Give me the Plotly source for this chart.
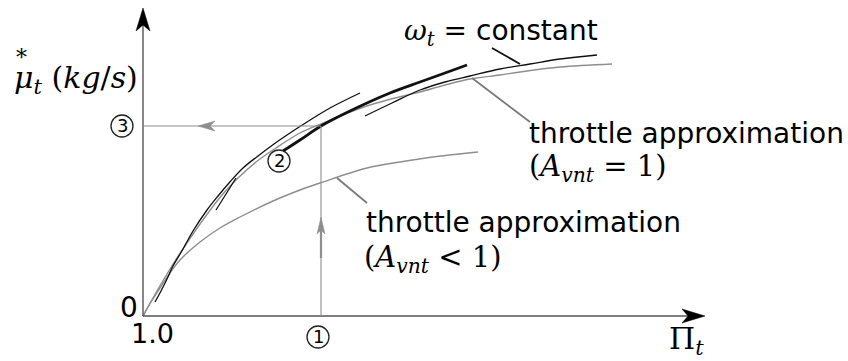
import plotly.graph_objects as go

# Schematic turbine map: mass flow vs. pressure ratio (arbitrary schematic units,
# origin = (Pi_t = 1.0, mass flow = 0)).

# omega_t = constant speed line, left piece
speed_a_x = [12, 18, 24, 30, 40, 50, 64, 75, 86, 100, 115, 131, 147, 164, 187, 217]
speed_a_y = [14, 25, 37, 50, 67, 85, 106, 120, 133, 148, 160, 172, 183, 194, 208, 223]

# omega_t = constant speed line, right piece
speed_c_x = [222, 249, 277, 302, 327, 357, 387, 417, 454]
speed_c_y = [200, 213, 226, 234, 240, 247, 252, 257, 261]

# highlighted (bold) portion of the speed line around operating point 2
speed_bold_x = [140, 157, 178, 207, 247, 277, 302, 324]
speed_bold_y = [165, 176, 190, 205, 223, 234, 243, 251]

# short speed-line piece at low flow
speed_b_x = [73, 93]
speed_b_y = [106, 138]

# throttle approximation, A_vnt = 1
thr1_x = [0, 6, 14, 24, 36, 50, 65, 79, 95, 113, 133, 157, 178, 202, 227, 252, 277, 302, 327, 357, 377, 417, 469]
thr1_y = [0, 11, 25, 42, 61, 82, 103, 121, 138, 154, 168, 183, 192, 202, 211, 218, 224, 231, 237, 241, 244, 249, 252]

# throttle approximation, A_vnt < 1
thr2_x = [0, 8, 17, 27, 37, 57, 77, 97, 130, 157, 177, 224, 257, 290, 335]
thr2_y = [0, 14, 28, 43, 56, 74, 88, 99, 115, 126, 133, 148, 154, 159, 164]

# operating point: pressure ratio (1) -> flow (3) via point (2)
op_x = 178
op_y = 190

# numbered markers: label, centre x, centre y
marker_ids = ["1", "2", "3"]
marker_x = [175, 136, -21]
marker_y = [-21, 155, 190]

X0, X1 = -143, 705
Y0, Y1 = -45, 316

BLACK = "#111111"
GRAY = "#8e8e8e"
LEAD = "#7a7a7a"
AXIS = "#555555"
SANS = "DejaVu Sans"
SERIF = "DejaVu Serif"

fig = go.Figure()


def curve(x, y, color, width, shape="spline"):
    fig.add_trace(go.Scatter(x=x, y=y, mode="lines",
                             line=dict(color=color, width=width, shape=shape, smoothing=1.0),
                             hoverinfo="skip"))


curve(thr2_x, thr2_y, GRAY, 1.4)
curve(thr1_x, thr1_y, GRAY, 1.4)
curve(speed_a_x, speed_a_y, BLACK, 1.3)
curve(speed_c_x, speed_c_y, BLACK, 1.3)
curve(speed_b_x, speed_b_y, BLACK, 1.3, shape="linear")
curve(speed_bold_x, speed_bold_y, BLACK, 2.8)

shapes = []

# axes with arrowheads
shapes.append(dict(type="line", x0=0, y0=0, x1=0, y1=292, line=dict(color=AXIS, width=1.4)))
shapes.append(dict(type="line", x0=0, y0=0, x1=548, y1=0, line=dict(color=AXIS, width=1.4)))
shapes.append(dict(type="path", path="M 0,308 L 7,285 L 0,291 L -7,285 Z",
                   fillcolor="black", line=dict(color="black", width=0.5)))
shapes.append(dict(type="path", path="M 562,0 L 539,7 L 545,0 L 539,-7 Z",
                   fillcolor="black", line=dict(color="black", width=0.5)))

# guide lines 1 -> 2 -> 3
shapes.append(dict(type="line", x0=op_x, y0=0, x1=op_x, y1=op_y, line=dict(color=GRAY, width=1.1)))
shapes.append(dict(type="line", x0=0, y0=op_y, x1=op_x, y1=op_y, line=dict(color=GRAY, width=1.1)))
shapes.append(dict(type="line", x0=op_x, y0=58, x1=op_x, y1=86, line=dict(color=GRAY, width=2.2)))
shapes.append(dict(type="path", path=f"M {op_x},99 L {op_x + 4},82 L {op_x},86 L {op_x - 4},82 Z",
                   fillcolor=GRAY, line=dict(color=GRAY, width=0.5)))
shapes.append(dict(type="path", path=f"M 55,{op_y} L 72,{op_y + 5} L 67,{op_y} L 72,{op_y - 5} Z",
                   fillcolor=GRAY, line=dict(color=GRAY, width=0.5)))

# label leaders
shapes.append(dict(type="line", x0=349, y0=268, x1=377, y1=252, line=dict(color=BLACK, width=1.8)))
shapes.append(dict(type="line", x0=329, y0=238, x1=387, y1=194, line=dict(color=LEAD, width=1.8)))
shapes.append(dict(type="line", x0=194, y0=138, x1=224, y1=113, line=dict(color=LEAD, width=1.8)))

# circles around the numbered markers
R = 11
for mx, my in zip(marker_x, marker_y):
    shapes.append(dict(type="circle", x0=mx - R, x1=mx + R, y0=my - R, y1=my + R,
                       line=dict(color="#222222", width=1.3), fillcolor="rgba(0,0,0,0)"))

fig.update_layout(shapes=shapes)


def label(x, y, text, size=28, family=SANS, xanchor="left", color="black"):
    fig.add_annotation(x=x, y=y, text=text, showarrow=False, xanchor=xanchor, yanchor="middle",
                       font=dict(family=family, size=size, color=color))


def serif(s):
    return f"<span style='font-family:{SERIF}'>{s}</span>"


label(259, 284, serif("<i>ω</i><sub><i>t</i></sub>&nbsp;=") + "&nbsp;constant")
label(384, 183, "throttle approximation")
label(384, 148, "(<i>A</i><sub><i>vnt</i></sub>&nbsp;=&nbsp;1)", size=29, family=SERIF)
label(221, 94, "throttle approximation")
label(219, 57, "(<i>A</i><sub><i>vnt</i></sub>&nbsp;&lt;&nbsp;1)", size=29, family=SERIF)

label(-131, 237, "<i>μ</i><sub><i>t</i></sub> (<i>kg</i>/<i>s</i>)", size=30, family=SERIF)
label(-122, 259, "*", size=22, family=SERIF, xanchor="center")

for mid, mx, my in zip(marker_ids, marker_x, marker_y):
    label(mx, my + 1, mid, size=18, xanchor="center")

label(-14, 9, "0", size=28, xanchor="center")
label(9, -17, "1.0", size=27, xanchor="center")
label(524, -24, "Π<sub><i>t</i></sub>", size=30, family=SERIF)

fig.update_layout(
    width=848, height=361,
    margin=dict(l=0, r=0, t=0, b=0),
    paper_bgcolor="white", plot_bgcolor="white",
    showlegend=False,
    xaxis=dict(range=[X0, X1], visible=False, fixedrange=True),
    yaxis=dict(range=[Y0, Y1], visible=False, fixedrange=True),
)

fig.write_html("out.html")
